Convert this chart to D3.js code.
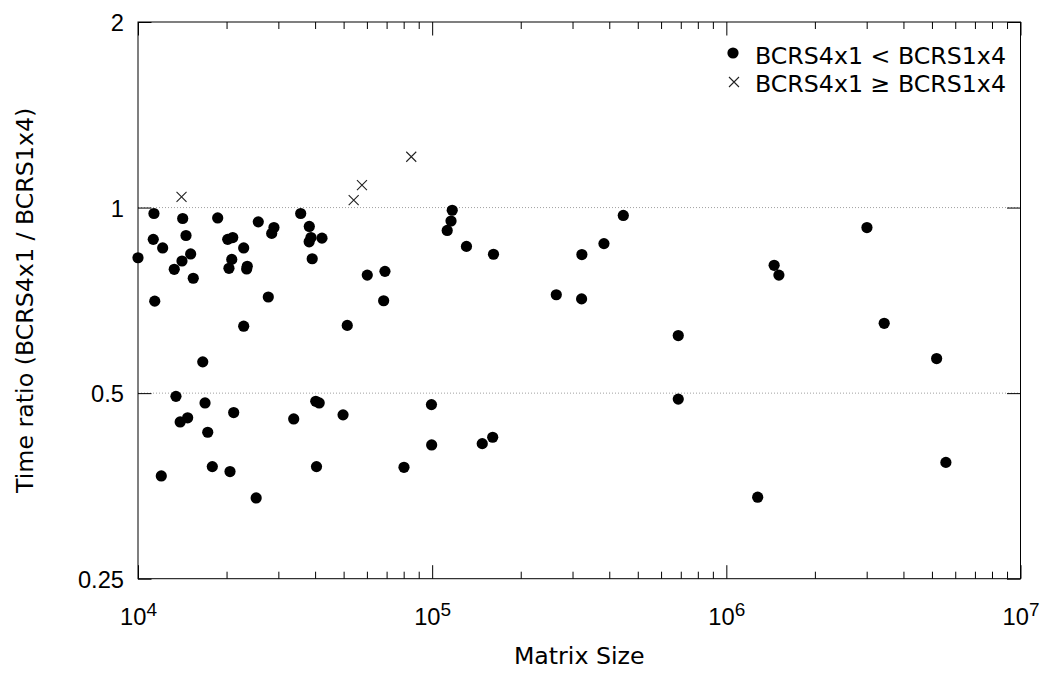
<!DOCTYPE html>
<html>
<head>
<meta charset="utf-8">
<script src="https://cdn.jsdelivr.net/npm/d3@7"></script>
<style>
  body { margin: 0; background: #fff; }
  svg { font-family: "DejaVu Sans", sans-serif; }
  .axis path { display: none; }
  .axis line { stroke: #000; }
  .axis text { fill: #000; font-size: 23.7px; }
</style>
</head>
<body>
<div id="chart"></div>
<script>
// matrix size / time ratio, case BCRS4x1 < BCRS1x4
const fasterSize = [
  1.000e4, 1.133e4, 1.127e4, 1.140e4, 1.213e4, 1.328e4, 1.411e4, 1.419e4, 1.456e4, 1.510e4,
  1.541e4, 1.660e4, 1.866e4, 2.018e4, 2.099e4, 2.083e4, 2.038e4, 2.287e4, 2.352e4, 2.341e4,
  2.287e4, 2.564e4, 2.773e4, 2.848e4, 2.898e4, 3.573e4, 3.822e4, 3.873e4, 3.818e4, 4.221e4,
  3.910e4, 5.145e4, 6.017e4, 6.911e4, 6.840e4, 1.170e5, 1.159e5, 1.125e5, 1.308e5, 1.616e5,
  4.464e5, 3.837e5, 3.228e5, 2.642e5, 3.221e5, 6.864e5, 6.864e5, 1.454e6, 1.509e6, 3.006e6,
  3.441e6, 5.186e6, 5.577e6, 1.278e6, 1.346e4, 1.690e4, 1.391e4, 1.475e4, 1.726e4, 2.115e4,
  1.200e4, 1.789e4, 2.055e4, 2.522e4, 3.383e4, 4.021e4, 4.130e4, 4.978e4, 4.044e4, 8.020e4,
  9.945e4, 9.960e4, 1.480e5, 1.606e5
];
const fasterRatio = [
  0.829, 0.978, 0.888, 0.705, 0.860, 0.794, 0.819, 0.960, 0.901, 0.841,
  0.768, 0.562, 0.962, 0.888, 0.894, 0.824, 0.797, 0.860, 0.803, 0.795,
  0.642, 0.948, 0.716, 0.908, 0.928, 0.978, 0.932, 0.894, 0.880, 0.892,
  0.826, 0.644, 0.777, 0.788, 0.706, 0.990, 0.951, 0.918, 0.865, 0.840,
  0.971, 0.874, 0.839, 0.722, 0.711, 0.620, 0.489, 0.806, 0.777, 0.928,
  0.649, 0.569, 0.386, 0.339, 0.494, 0.482, 0.449, 0.456, 0.432, 0.465,
  0.367, 0.380, 0.373, 0.338, 0.454, 0.485, 0.482, 0.461, 0.380, 0.379,
  0.479, 0.412, 0.414, 0.424
];
// case BCRS4x1 >= BCRS1x4
const slowerSize = [1.406e4, 5.410e4, 5.772e4, 8.490e4];
const slowerRatio = [1.041, 1.028, 1.087, 1.209];

const xTicks = [1e4, 1e5, 1e6, 1e7];
const yTicks = [0.25, 0.5, 1, 2];
const legendLabels = ['BCRS4x1 < BCRS1x4', 'BCRS4x1 \u2265 BCRS1x4'];

const W = 1041, H = 677;
const margin = {top: 22, right: 20.5, bottom: 98.3, left: 138};
const dim = {w: W - margin.left - margin.right, h: H - margin.top - margin.bottom};

const svg = d3.select('#chart').append('svg')
  .attr('width', W)
  .attr('height', H);
const g = svg.append('g')
  .attr('transform', `translate(${margin.left}, ${margin.top})`);

const x = d3.scaleLog().domain([1e4, 1e7]).range([0, dim.w]);
const y = d3.scaleLog().base(2).domain([0.25, 2]).range([dim.h, 0]);

const minorX = [];
for (let k = 1e4; k < 1e7; k *= 10) {
  for (let m = 2; m < 10; m++) minorX.push(k * m);
}

// grid
g.selectAll('.grid')
  .data([0.5, 1])
  .enter().append('line')
  .attr('x1', 0).attr('x2', dim.w)
  .attr('y1', d => y(d)).attr('y2', d => y(d))
  .attr('stroke', '#a0a0a0')
  .attr('stroke-dasharray', '1,2');

// ticks
g.append('g').attr('class', 'axis').attr('transform', `translate(0, ${dim.h})`)
  .call(d3.axisBottom(x).tickValues(minorX).tickSize(-7).tickSizeOuter(0).tickFormat(''));
g.append('g').attr('class', 'axis')
  .call(d3.axisTop(x).tickValues(minorX).tickSize(-7).tickSizeOuter(0).tickFormat(''));
g.append('g').attr('class', 'axis')
  .call(d3.axisTop(x).tickValues(xTicks).tickSize(-13.5).tickSizeOuter(0).tickFormat(''));
const xAxis = g.append('g').attr('class', 'axis x').attr('transform', `translate(0, ${dim.h})`)
  .call(d3.axisBottom(x).tickValues(xTicks).tickSize(-13.5).tickSizeOuter(0));
xAxis.selectAll('text')
  .attr('y', 46).attr('dy', 0)
  .text(null)
  .each(function(d) {
    const t = d3.select(this);
    t.append('tspan').text('10');
    t.append('tspan').attr('dy', -9).attr('font-size', '19px').text(Math.round(Math.log10(d)));
  });

g.append('g').attr('class', 'axis y')
  .call(d3.axisLeft(y).tickValues(yTicks).tickSize(-13.5).tickSizeOuter(0).tickFormat(d => String(d)))
  .selectAll('text').attr('x', -14).attr('dy', '0.36em');
g.append('g').attr('class', 'axis').attr('transform', `translate(${dim.w}, 0)`)
  .call(d3.axisRight(y).tickValues(yTicks).tickSize(-13.5).tickSizeOuter(0).tickFormat(''));

// frame
g.append('rect')
  .attr('width', dim.w).attr('height', dim.h)
  .attr('fill', 'none').attr('stroke', '#000');

// points
const fast = d3.zip(fasterSize, fasterRatio);
const slow = d3.zip(slowerSize, slowerRatio);
g.selectAll('circle.fast')
  .data(fast)
  .enter().append('circle')
  .attr('class', 'fast')
  .attr('cx', d => x(d[0]))
  .attr('cy', d => y(d[1]))
  .attr('r', 5.6)
  .attr('fill', '#000');

const cross = 'M-5,-5L5,5M-5,5L5,-5';
g.selectAll('path.slow')
  .data(slow)
  .enter().append('path')
  .attr('class', 'slow')
  .attr('d', cross)
  .attr('transform', d => `translate(${x(d[0])}, ${y(d[1])})`)
  .attr('fill', 'none')
  .attr('stroke', '#222')
  .attr('stroke-width', 1.1);

// axis titles
svg.append('text')
  .attr('x', margin.left + dim.w / 2)
  .attr('y', 664)
  .attr('text-anchor', 'middle')
  .attr('font-size', '23.7px')
  .text('Matrix Size');
svg.append('text')
  .attr('transform', `translate(33, ${margin.top + dim.h / 2}) rotate(-90)`)
  .attr('text-anchor', 'middle')
  .attr('font-size', '23.7px')
  .text('Time ratio (BCRS4x1 / BCRS1x4)');

// legend
const legend = svg.append('g').attr('transform', 'translate(733, 53)');
legend.append('circle').attr('r', 5.6).attr('fill', '#000');
legend.append('path')
  .attr('d', cross)
  .attr('transform', 'translate(1, 29)')
  .attr('fill', 'none').attr('stroke', '#222').attr('stroke-width', 1.1);
legend.selectAll('text')
  .data(legendLabels)
  .enter().append('text')
  .attr('x', 22)
  .attr('y', (d, i) => 10.5 + i * 28.5)
  .attr('font-size', '23.7px')
  .text(d => d);
</script>
</body>
</html>
